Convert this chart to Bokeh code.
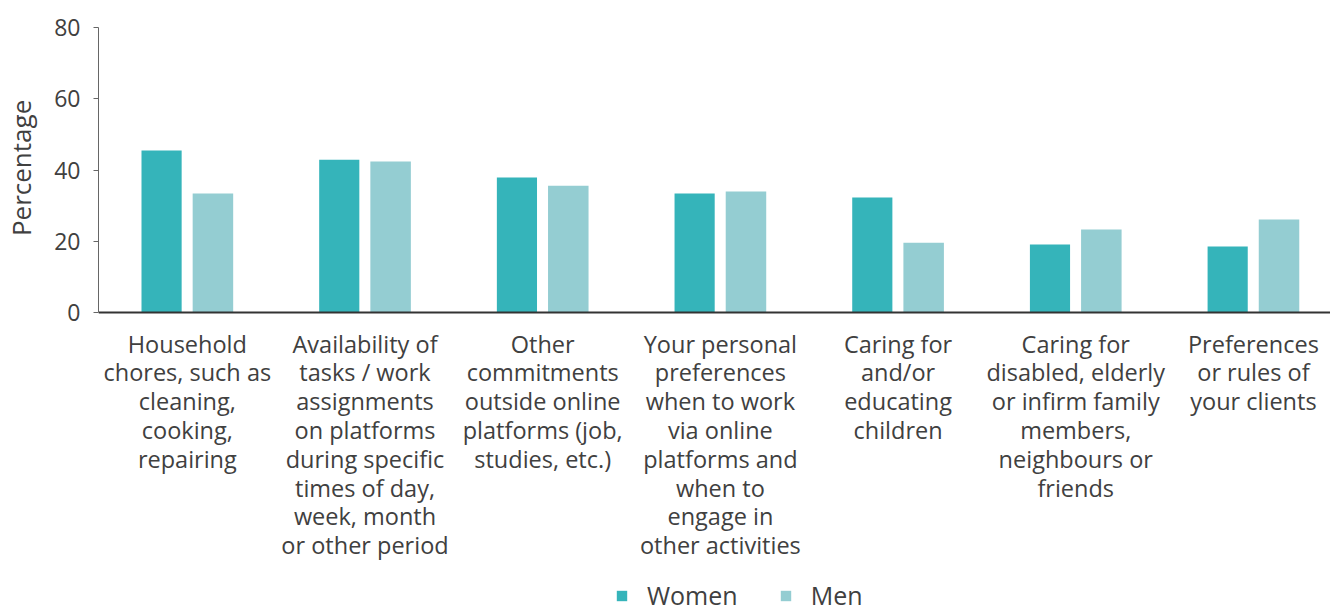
from bokeh.plotting import figure
from bokeh.models import (Range1d, FixedTicker, CustomJSTickFormatter, Legend,
                          LegendItem, ColumnDataSource)
from bokeh.embed import file_html
from bokeh.resources import INLINE
import numpy as np

categories = [
    "Household\nchores, such as\ncleaning,\ncooking,\nrepairing",
    "Availability of\ntasks / work\nassignments\non platforms\nduring specific\ntimes of day,\nweek, month\nor other period",
    "Other\ncommitments\noutside online\nplatforms (job,\nstudies, etc.)",
    "Your personal\npreferences\nwhen to work\nvia online\nplatforms and\nwhen to\nengage in\nother activities",
    "Caring for\nand/or\neducating\nchildren",
    "Caring for\ndisabled, elderly\nor infirm family\nmembers,\nneighbours or\nfriends",
    "Preferences\nor rules of\nyour clients",
]
women = [45.5, 42.9, 37.9, 33.4, 32.3, 19.1, 18.5]
men = [33.4, 42.4, 35.6, 34.0, 19.6, 23.3, 26.1]
y_ticks = [0, 20, 40, 60, 80]
y_title = "Percentage"

WOMEN_C = "#35b4ba"
MEN_C = "#94cdd2"
TXT = "#404040"
FONT = "Open Sans"

# layout: bar area 285px tall for 0..80; frame extends down to hold legend
BAR_PX = 285
FRAME_PX = 578
y_bottom = -80.0 * (FRAME_PX - BAR_PX) / BAR_PX

idx = np.arange(len(categories)) + 0.5
src = ColumnDataSource(dict(xw=idx - 0.145, xm=idx + 0.144,
                            women=women, men=men))

p = figure(frame_width=1234, frame_height=FRAME_PX, output_backend="svg",
           toolbar_location=None, x_range=Range1d(0, 6.945),
           y_range=Range1d(y_bottom, 80), min_border_top=27, min_border_left=96,
           min_border_right=0, min_border_bottom=0)
p.outline_line_color = None
p.xgrid.visible = False
p.ygrid.visible = False
p.background_fill_color = "white"
p.border_fill_color = "white"

rw = p.vbar(x="xw", top="women", width=0.226, source=src,
            fill_color=WOMEN_C, line_color=None)
rm = p.vbar(x="xm", top="men", width=0.228, source=src,
            fill_color=MEN_C, line_color=None)

# y axis
ya = p.yaxis[0]
ya.ticker = FixedTicker(ticks=y_ticks)
ya.bounds = (0, 80)
ya.minor_tick_line_color = None
ya.major_tick_out = 5
ya.major_tick_in = 0
ya.axis_line_color = "#666666"
ya.major_tick_line_color = "#666666"
ya.major_label_text_font = FONT
ya.major_label_text_font_size = "23px"
ya.major_label_text_color = TXT
ya.major_label_standoff = 13
# leading no-break spaces lift the centred title up to the 0-80 part of the axis
ya.axis_label = "\u00a0" * 44 + y_title
ya.axis_label_text_font = FONT
ya.axis_label_text_font_size = "26px"
ya.axis_label_text_font_style = "normal"
ya.axis_label_text_color = TXT
ya.axis_label_standoff = 12

# x axis, placed at y = 0
xa = p.xaxis[0]
xa.fixed_location = 0
xa.ticker = FixedTicker(ticks=list(idx))
xa.formatter = CustomJSTickFormatter(args=dict(labels=categories),
                                     code="return labels[Math.round(tick - 0.5)];")
xa.minor_tick_line_color = None
xa.major_tick_line_color = None
xa.major_tick_out = 0
xa.major_tick_in = 0
xa.axis_line_color = "#333333"
xa.axis_line_width = 2
xa.major_label_text_font = FONT
xa.major_label_text_font_size = "23.5px"
xa.major_label_text_color = TXT
xa.major_label_text_line_height = 0.9
xa.major_label_standoff = 15

legend = Legend(items=[LegendItem(label="Women", renderers=[rw]),
                       LegendItem(label="Men", renderers=[rm])],
                orientation="horizontal", location=(517, -7),
                glyph_width=13, glyph_height=13, label_standoff=19,
                spacing=41, padding=0, margin=0,
                border_line_color=None, background_fill_alpha=0,
                label_text_font=FONT, label_text_font_size="25px",
                label_text_color=TXT)
p.add_layout(legend, "center")

open("out.html", "w").write(file_html(p, INLINE))
